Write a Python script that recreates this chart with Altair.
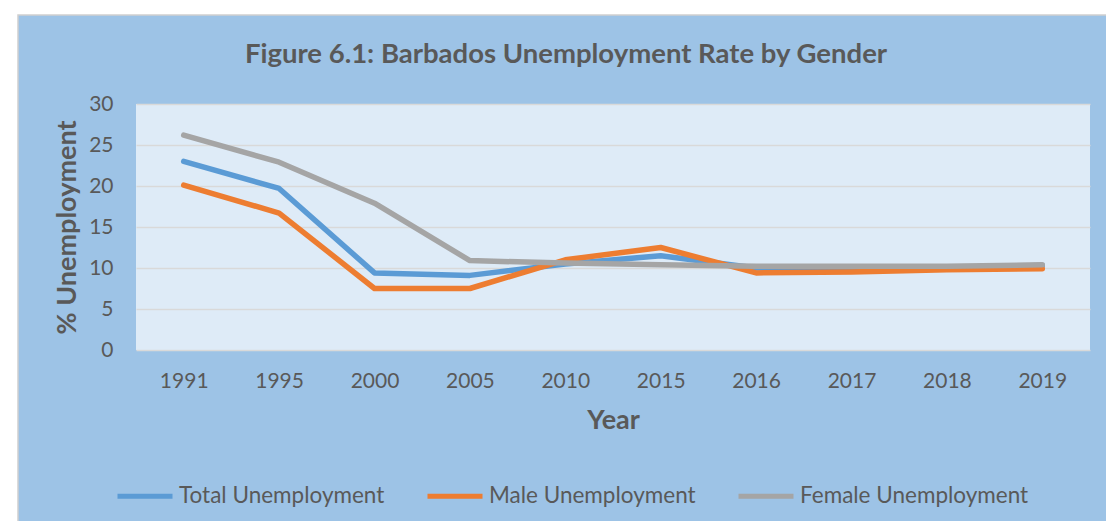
import altair as alt
import pandas as pd

years = ["1991", "1995", "2000", "2005", "2010", "2015", "2016", "2017", "2018", "2019"]
total = [23.0, 19.7, 9.4, 9.1, 10.5, 11.5, 10.0, 10.0, 10.1, 10.3]
male = [20.1, 16.7, 7.5, 7.5, 11.0, 12.5, 9.4, 9.5, 9.8, 9.9]
female = [26.2, 22.9, 17.9, 10.9, 10.6, 10.4, 10.2, 10.2, 10.2, 10.4]
series = ["Total Unemployment", "Male Unemployment", "Female Unemployment"]
colors = ["#5b9bd5", "#ed7d31", "#a5a5a5"]
y_ticks = [0, 5, 10, 15, 20, 25, 30]
title_text = "Figure 6.1: Barbados Unemployment Rate by Gender"

rows = []
for name, vals in zip(series, [total, male, female]):
    for yr, v in zip(years, vals):
        rows.append({"Year": yr, "Series": name, "Value": v})
df = pd.DataFrame(rows)

W, H = 954, 246
FONT = "Lato"
TXT = "#595959"

lines = alt.Chart(df).mark_line(strokeWidth=5.5, strokeCap="round", strokeJoin="round").encode(
    x=alt.X("Year:N", sort=years, scale=alt.Scale(type="point", padding=0.5),
            axis=alt.Axis(title="Year", labelAngle=0, ticks=False, domain=False, grid=False,
                          labelFontSize=21, labelFont=FONT, labelColor=TXT,
                          labelBaseline="middle", labelPadding=31,
                          titleFontSize=27, titleFont=FONT, titleFontWeight="bold", titleColor=TXT,
                          titleX=477, titleY=70, titleBaseline="middle")),
    y=alt.Y("Value:Q", scale=alt.Scale(domain=[0, 30], nice=False),
            axis=alt.Axis(title="% Unemployment", values=y_ticks, ticks=False, domain=False,
                          gridColor="#d9d9d9", gridWidth=1.5,
                          labelFontSize=21, labelFont=FONT, labelColor=TXT, labelPadding=23,
                          titleFontSize=27, titleFont=FONT, titleFontWeight="bold", titleColor=TXT,
                          titleAngle=-90, titleX=-69, titleY=H / 2, titleAlign="center",
                          titleBaseline="middle")),
    color=alt.Color("Series:N", sort=series, scale=alt.Scale(domain=series, range=colors),
                    legend=alt.Legend(title=None, orient="none", legendX=-21, legendY=362,
                                      direction="horizontal", columns=3, symbolType="stroke",
                                      symbolSize=3025, symbolStrokeWidth=5, labelOffset=4,
                                      labelFontSize=22.5, labelFont=FONT, labelColor=TXT,
                                      labelLimit=400, columnPadding=32)),
)

dummy = pd.DataFrame({"t": [title_text]})
white_top = alt.Chart(dummy).mark_rect(color="white").encode(
    x=alt.value(-136), x2=alt.value(980), y=alt.value(-104), y2=alt.value(-89))
white_left = alt.Chart(dummy).mark_rect(color="white").encode(
    x=alt.value(-136), x2=alt.value(-118), y=alt.value(-104), y2=alt.value(430))
border = alt.Chart(dummy).mark_rect(fill=None, stroke="#d0d0d0", strokeWidth=1.5).encode(
    x=alt.value(-118), x2=alt.value(990), y=alt.value(-89), y2=alt.value(440))
title = alt.Chart(dummy).mark_text(fontSize=27.5, font=FONT, fontWeight="bold", color=TXT,
                                   align="center", baseline="middle").encode(
    text="t:N", x=alt.value(430), y=alt.value(-49))

chart = alt.layer(white_top, white_left, border, title, lines).properties(
    width=W, height=H,
    autosize=alt.AutoSizeParams(type="none"),
    padding={"left": 136, "top": 104, "right": 16, "bottom": 171},
    background="#9dc3e6",
).configure_view(fill="#deebf7", stroke=None)

chart.save("out.html", embed_options={"renderer": "svg", "actions": False})
